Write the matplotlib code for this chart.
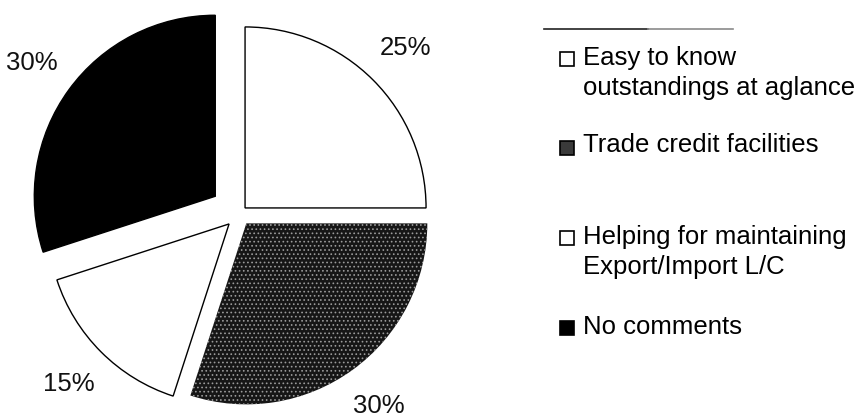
import matplotlib
matplotlib.use("Agg")
import matplotlib.pyplot as plt
from matplotlib.patches import Rectangle
from matplotlib.lines import Line2D

plt.rcParams['font.family'] = ['Liberation Sans', 'DejaVu Sans']
plt.rcParams['hatch.linewidth'] = 0.7

# survey answers, clockwise from 12 o'clock
categories = [
    ["Easy to know", "outstandings at aglance"],
    ["Trade credit facilities"],
    ["Helping for maintaining", "Export/Import L/C"],
    ["No comments"],
]
shares = [25, 30, 15, 30]

face = ['white', '#161616', 'white', 'black']
key_face = ['white', '#3a3a3a', 'white', 'black']
explode = [0.045, 0.066, 0.08, 0.164]

W, H = 863, 417
fig = plt.figure(figsize=(W / 100, H / 100), dpi=100)

# pie axes: centre ~ (239, 214) px, radius ~181 px
r_px = 181
half = 1.3 * r_px
cx, cy = 239.3, H - 213.7
ax = fig.add_axes([(cx - half) / W, (cy - half) / H, 2 * half / W, 2 * half / H])

wedges, _, pcts = ax.pie(
    shares, explode=explode, startangle=90, counterclock=False,
    colors=face, autopct=lambda p: f"{p:.0f}%", pctdistance=1.25,
    wedgeprops=dict(edgecolor='black', linewidth=1.0),
    textprops=dict(fontsize=18.5, color='#111111'),
)
# speckled grey slice
wedges[1].set_hatch('....')
wedges[1].set_edgecolor('#9a9a9a')
wedges[1].set_linewidth(0)

ax.set_xlim(-1.3, 1.3)
ax.set_ylim(-1.3, 1.3)
ax.axis('off')

# rule above the legend
fig.add_artist(Line2D([544 / W, 648 / W], [1 - 29 / H] * 2, color='#222222', lw=1.2))
fig.add_artist(Line2D([648 / W, 733 / W], [1 - 29 / H] * 2, color='#8a8a8a', lw=1.2))

# legend keys and labels
key_y = [59, 148, 238, 328]
base_y = [[65, 95], [152], [244, 274], [334]]
key = 14
for lines, ky, by, fc in zip(categories, key_y, base_y, key_face):
    fig.add_artist(Rectangle((560 / W, 1 - (ky + key / 2) / H), key / W, key / H,
                             facecolor=fc, edgecolor='black', lw=1.2,
                             transform=fig.transFigure))
    for txt, y in zip(lines, by):
        fig.text(583 / W, 1 - y / H, txt, fontsize=18.5, va='baseline', ha='left',
                 color='black')

fig.savefig('out.png', dpi=100, facecolor='white')
